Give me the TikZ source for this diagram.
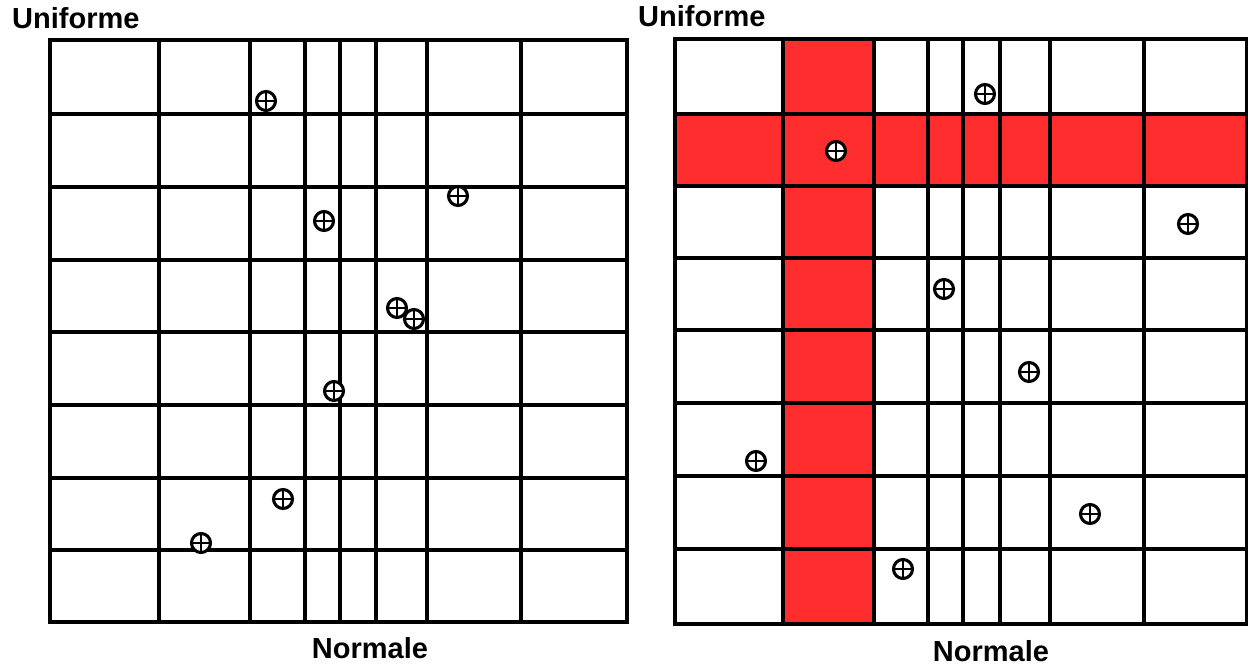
\documentclass[tikz,border=0pt]{standalone}
\usepackage{fontspec}
\setmainfont{Liberation Sans}
\definecolor{cellred}{RGB}{255,45,45}
\begin{document}
\begin{tikzpicture}[x=1pt,y=-1pt,
  gridline/.style={line width=3.1pt, black, line cap=rect},
  lbl/.style={font=\fontsize{29}{32}\selectfont\bfseries, inner sep=0pt},
  obs/.style={circle, draw, line width=3.1pt, fill=white, minimum size=19pt, inner sep=0pt,
    path picture={\draw[line width=2.2pt]
      (path picture bounding box.north) -- (path picture bounding box.south)
      (path picture bounding box.west) -- (path picture bounding box.east);}}]
\useasboundingbox (0,0) rectangle (1248,666);
% ---------- left panel ----------
\draw[gridline] (50,40) rectangle (627,622);
\foreach \x in {159,250,305,340,376,427,521} \draw[gridline] (\x,40) -- (\x,622);
\foreach \y in {114,187,260,332,405,478,550} \draw[gridline] (50,\y) -- (627,\y);
\node[lbl, anchor=base west] (u1) at (12,29) {Uniforme};
\node[lbl, anchor=base] (n1) at (370,658) {Normale};
\node[obs] (p1) at (266,101) {};
\node[obs] (p2) at (324,221) {};
\node[obs] (p3) at (458,196) {};
\node[obs] (p4) at (397,308) {};
\node[obs] (p5) at (414,319) {};
\node[obs] (p6) at (334,391) {};
\node[obs] (p7) at (283,499) {};
\node[obs] (p8) at (201,543) {};
% ---------- right panel ----------
\fill[cellred] (783,39) rectangle (874,624);
\fill[cellred] (675,114) rectangle (1247,186);
\draw[gridline] (675,39) rectangle (1247,624);
\foreach \x in {783,874,928,963,1000,1050,1144} \draw[gridline] (\x,39) -- (\x,624);
\foreach \y in {114,186,258,330,403,476,549} \draw[gridline] (675,\y) -- (1247,\y);
\node[lbl, anchor=base west] (u2) at (638,27) {Uniforme};
\node[lbl, anchor=base] (n2) at (991,661) {Normale};
\node[obs] (q1) at (985,94) {};
\node[obs] (q2) at (836,151) {};
\node[obs] (q3) at (1188,224) {};
\node[obs] (q4) at (944,289) {};
\node[obs] (q5) at (1029,372) {};
\node[obs] (q6) at (756,461) {};
\node[obs] (q7) at (1090,514) {};
\node[obs] (q8) at (903,569) {};
\end{tikzpicture}
\end{document}
